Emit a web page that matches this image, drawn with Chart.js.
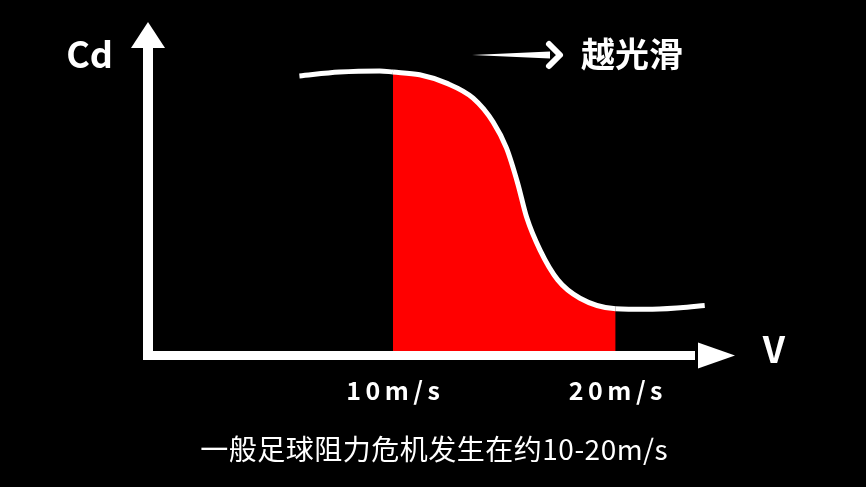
<!DOCTYPE html>
<html>
<head>
<meta charset="utf-8">
<script src="https://cdn.jsdelivr.net/npm/chart.js@4"></script>
<style>
  html, body { margin: 0; padding: 0; background: #000; }
  #chart { display: block; }
</style>
</head>
<body>
<canvas id="chart" width="866" height="487"></canvas>
<script>
// Drag coefficient vs. speed (schematic)
const speeds = [5.8, 7.6, 9.4, 10, 11.2, 12.4, 13.6, 14.5, 15.1, 15.6, 16.0, 16.6, 17.4, 18.4, 20, 21.4, 22.9, 24.0];
const cdValues = [0.503, 0.510, 0.512, 0.510, 0.505, 0.490, 0.463, 0.420, 0.373, 0.310, 0.249, 0.190, 0.136, 0.103, 0.084, 0.083, 0.086, 0.090];
const crisisRange = [10, 20];
const tickSpeeds = [10, 20];
const tickLabels = ['10m/s', '20m/s'];
const yAxisLabel = 'Cd';
const xAxisLabel = 'V';
const trendLabel = '越光滑';
const caption = '一般足球阻力危机发生在约10-20m/s';

const points = speeds.map((v, i) => ({ x: v, y: cdValues[i] }));
const FONT = '"Noto Sans CJK SC", "Noto Sans", sans-serif';

function textSpaced(ctx, text, cx, y, spacing) {
  ctx.letterSpacing = spacing + 'px';
  const w = ctx.measureText(text).width - spacing;
  ctx.textAlign = 'left';
  ctx.fillText(text, cx - w / 2, y);
  ctx.letterSpacing = '0px';
}

const axesPlugin = {
  id: 'sketchAxes',
  afterDatasetsDraw(chart) {
    const { ctx, chartArea } = chart;
    const { left, right, top, bottom } = chartArea;
    const xs = chart.scales.x;
    ctx.save();
    ctx.fillStyle = '#fff';
    ctx.strokeStyle = '#fff';

    // y axis shaft + head
    ctx.fillRect(left - 5, top + 24, 10, bottom - top - 24 + 4.5);
    ctx.beginPath();
    ctx.moveTo(left, top);
    ctx.lineTo(left - 17, top + 26);
    ctx.lineTo(left + 17, top + 26);
    ctx.closePath();
    ctx.fill();

    // x axis shaft + head
    ctx.fillRect(left - 5, bottom - 4.5, right - left - 35, 9);
    ctx.beginPath();
    ctx.moveTo(right, bottom);
    ctx.lineTo(right - 37, bottom - 13);
    ctx.lineTo(right - 37, bottom + 13);
    ctx.closePath();
    ctx.fill();

    // axis names
    ctx.font = 'bold 36px ' + FONT;
    ctx.textBaseline = 'alphabetic';
    ctx.textAlign = 'right';
    ctx.fillText(yAxisLabel, left - 35, top + 46);
    ctx.textAlign = 'center';
    ctx.fillText(xAxisLabel, right + 39, bottom + 7);

    // tick labels under the axis
    ctx.font = 'bold 25px ' + FONT;
    tickSpeeds.forEach((v, i) => {
      textSpaced(ctx, tickLabels[i], xs.getPixelForValue(v), bottom + 44, 4.5);
    });

    // trend arrow + label
    const ay = top + 33;
    ctx.beginPath();
    ctx.moveTo(472, ay);
    ctx.lineTo(550, ay - 3.5);
    ctx.lineTo(550, ay + 3.5);
    ctx.closePath();
    ctx.fill();
    ctx.lineWidth = 6;
    ctx.lineCap = 'round';
    ctx.lineJoin = 'round';
    ctx.beginPath();
    ctx.moveTo(549, ay - 11);
    ctx.lineTo(560, ay);
    ctx.lineTo(549, ay + 11);
    ctx.stroke();

    ctx.font = 'bold 34px ' + FONT;
    ctx.textAlign = 'left';
    ctx.textBaseline = 'middle';
    ctx.fillText(trendLabel, 581, ay - 1);

    // caption
    ctx.font = '28px ' + FONT;
    ctx.textBaseline = 'middle';
    textSpaced(ctx, caption, 434, 449, 0.5);
    ctx.restore();
  }
};

new Chart(document.getElementById('chart'), {
  type: 'line',
  data: {
    datasets: [{
      data: points,
      borderColor: '#fff',
      borderWidth: 5,
      pointRadius: 0,
      cubicInterpolationMode: 'monotone',
      fill: 'origin',
      backgroundColor: 'rgba(0,0,0,0)',
      segment: {
        backgroundColor: (c) =>
          c.p0.parsed.x >= crisisRange[0] && c.p1.parsed.x <= crisisRange[1] ? '#ff0000' : 'rgba(0,0,0,0)'
      }
    }]
  },
  options: {
    responsive: false,
    animation: false,
    devicePixelRatio: 1,
    layout: { padding: { left: 148, right: 131, top: 22, bottom: 131.5 } },
    plugins: { legend: { display: false }, tooltip: { enabled: false } },
    scales: {
      x: { type: 'linear', display: false, min: -1, max: 25.36 },
      y: { display: false, min: 0, max: 0.6 }
    }
  },
  plugins: [axesPlugin]
});
</script>
</body>
</html>
